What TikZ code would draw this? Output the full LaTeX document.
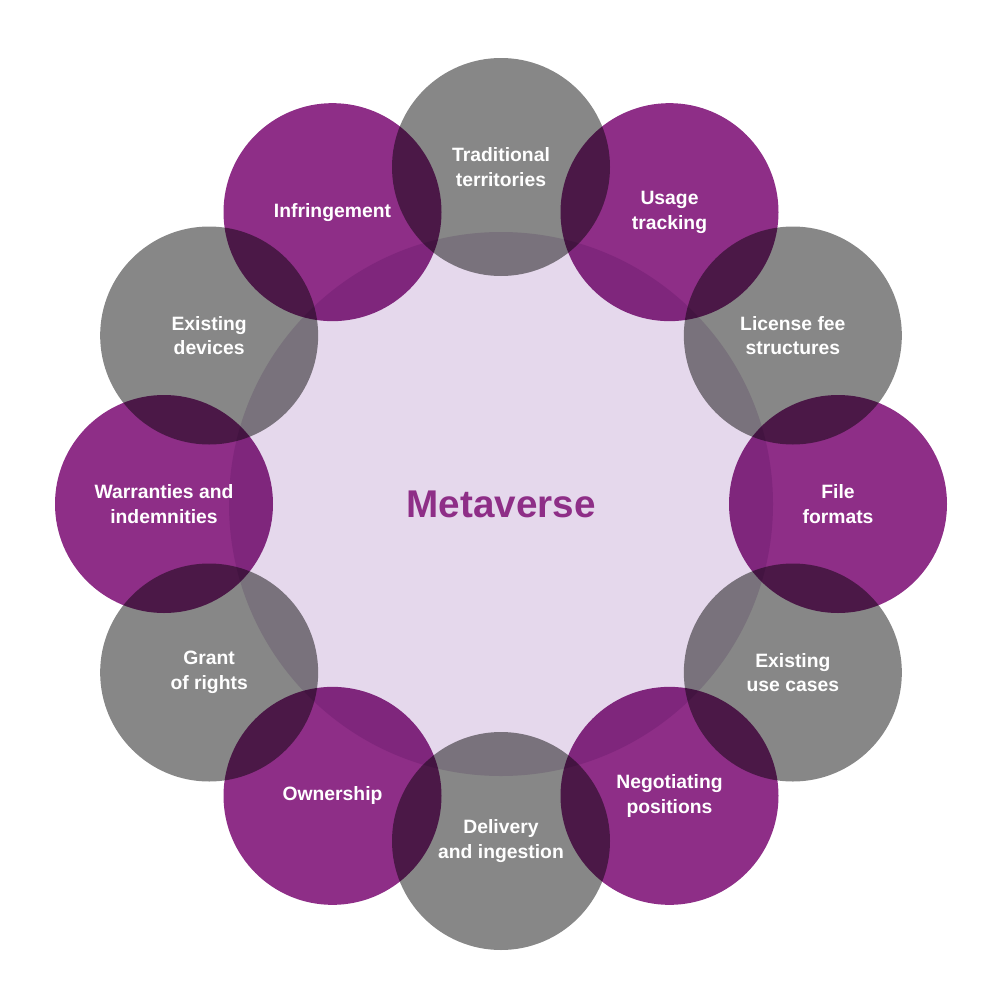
\documentclass[tikz,border=0pt]{standalone}
\usepackage{fontspec}
\setmainfont{Liberation Sans}
\definecolor{petal}{HTML}{8E2E87}
\definecolor{stone}{HTML}{878787}
\definecolor{hub}{HTML}{E5D8EC}
\begin{document}
\begin{tikzpicture}[x=0.02cm,y=-0.02cm,font=\bfseries\fontsize{11}{14}\selectfont,
  label/.style={text=white,align=center}]
\useasboundingbox (0,0) rectangle (1004,1004);

\begin{scope}[blend group=multiply]
\fill[hub] (501,504) circle (272);
\foreach \ang/\col in {90/stone,60/petal,30/stone,0/petal,-30/stone,-60/petal,-90/stone,-120/petal,-150/stone,180/petal,150/stone,120/petal}
  \fill[\col] ({501+337*cos(\ang)},{504-337*sin(\ang)}) circle (109);
\end{scope}

\node[text=petal,font=\bfseries\fontsize{22}{26}\selectfont] (hub) at (501,504) {Metaverse};
\foreach \ang/\txt [count=\i] in {90/{Traditional\\territories},60/{Usage\\tracking},30/{License fee\\structures},0/{File\\formats},-30/{Existing\\use cases},-60/{Negotiating\\positions},-90/{Delivery\\and ingestion},-120/{Ownership},-150/{Grant\\of rights},180/{Warranties and\\indemnities},150/{Existing\\devices},120/{Infringement}}
  \node[label] (t\i) at ({501+337*cos(\ang)},{504-337*sin(\ang)}) {\txt};
\end{tikzpicture}
\end{document}
